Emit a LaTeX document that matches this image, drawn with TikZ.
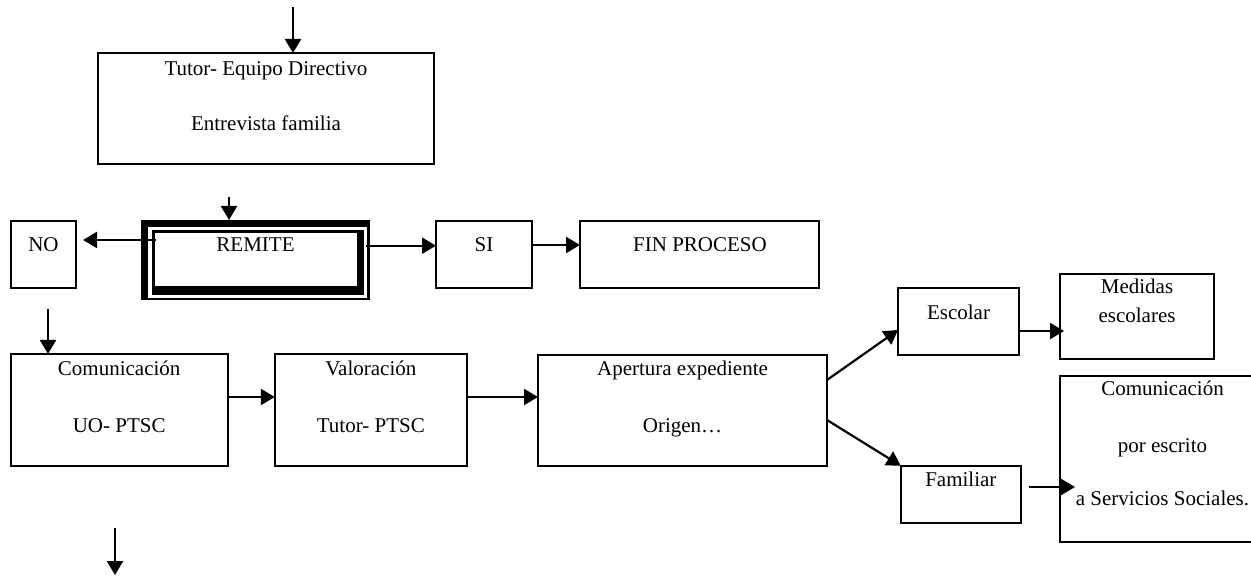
\documentclass[tikz,border=0pt]{standalone}
\usepackage{fontspec}
\setmainfont{Liberation Serif}
\usetikzlibrary{arrows.meta}
\begin{document}
\begin{tikzpicture}[x=0.5pt,y=-0.5pt,
  box/.style={draw,line width=1pt,rectangle,inner sep=0pt,outer sep=0pt},
  txt/.style={anchor=base,inner sep=0pt,font=\fontsize{10.5pt}{12pt}\selectfont},
  arr/.style={line width=1.1pt,-{Triangle[length=7pt,width=8pt]}}]
\useasboundingbox (0,0) rectangle (1251,576);
% boxes
\node[box,minimum width=168pt,minimum height=55.5pt] (b1) at (266,108.5) {};
\node[box,minimum width=32.5pt,minimum height=33.5pt] (no) at (43.5,254.5) {};
\node[box,minimum width=48pt,minimum height=33.5pt] (si) at (484,254.5) {};
\node[box,minimum width=119.5pt,minimum height=33.5pt] (fin) at (699.5,254.5) {};
% REMITE frame
\fill[black] (141,220) rectangle (370,300);
\fill[white] (148.3,227.3) rectangle (366.7,297.7);
\fill[black] (151.7,230) rectangle (364,295);
\fill[white] (155,232.7) rectangle (356.7,286);
\node[inner sep=0pt,outer sep=0pt,minimum width=114.5pt,minimum height=40pt] (remite) at (255.5,260) {};
\node[box,minimum width=108.5pt,minimum height=56pt] (com) at (119.2,410) {};
\node[box,minimum width=96pt,minimum height=56pt] (val) at (370.85,410) {};
\node[box,minimum width=144.5pt,minimum height=55.5pt] (ap) at (682.5,410.5) {};
\node[box,minimum width=60.5pt,minimum height=33.5pt] (esc) at (958.5,321.5) {};
\node[box,minimum width=77pt,minimum height=42.5pt] (med) at (1137,316.5) {};
\node[box,minimum width=60.15pt,minimum height=28.5pt] (fam) at (960.85,494.2) {};
\node[box,minimum width=110pt,minimum height=83pt] (ces) at (1170,459) {};
% texts
\node[txt] (t1a) at (266,75.3) {Tutor- Equipo Directivo};
\node[txt] (t1b) at (266,131) {Entrevista familia};
\node[txt] (tno) at (43.5,252) {NO};
\node[txt] (trem) at (255.5,252) {REMITE};
\node[txt] (tsi) at (484,252) {SI};
\node[txt] (tfin) at (700,252) {FIN PROCESO};
\node[txt] (tcoma) at (119.2,376) {Comunicación};
\node[txt] (tcomb) at (119.2,432) {UO- PTSC};
\node[txt] (tvala) at (370.85,376) {Valoración};
\node[txt] (tvalb) at (370.85,432) {Tutor- PTSC};
\node[txt] (tapa) at (682.5,376) {Apertura expediente};
\node[txt] (tapb) at (682.5,432.7) {Origen…};
\node[txt] (tesc) at (958.5,320) {Escolar};
\node[txt] (tmeda) at (1137,294) {Medidas};
\node[txt] (tmedb) at (1137,323) {escolares};
\node[txt] (tfam) at (960.85,486) {Familiar};
\node[txt] (tcesa) at (1162.5,396) {Comunicación};
\node[txt] (tcesb) at (1162.5,452) {por escrito};
\node[txt] (tcesc) at (1162.5,505) {a Servicios Sociales.};
% coordinates
\coordinate (c0) at (293,7);
\coordinate (c1) at (229,197);
\coordinate (c2) at (156,240);
\coordinate (c2e) at (83,240);
\coordinate (c3) at (365.7,245.7);
\coordinate (c4) at (532,245);
\coordinate (c5) at (48,309);
\coordinate (c6) at (0,397);
\coordinate (c7) at (115,528);
\coordinate (c8) at (115,575);
\coordinate (c9) at (0,380);
\coordinate (c10) at (0,330);
\coordinate (c11) at (0,420);
\coordinate (c12) at (0,331);
\coordinate (c12e) at (1064,331);
\coordinate (c13) at (1029.3,487);
\coordinate (c14) at (1075,487);
% arrows
\draw[arr] (c0) -- (c0 |- b1.north);
\draw[arr] (c1) -- (c1 |- remite.north);
\draw[arr] (c2) -- (c2e);
\draw[arr] (c3) -- (si.west |- c3);
\draw[arr] (c4) -- (fin.west |- c4);
\draw[arr] (c5) -- (c5 |- com.north);
\draw[arr] (com.east |- c6) -- (val.west |- c6);
\draw[arr] (val.east |- c6) -- (ap.west |- c6);
\draw[arr] (c7) -- (c8);
\draw[arr] (ap.east |- c9) -- (esc.west |- c10);
\draw[arr] (ap.east |- c11) -- (fam.north west);
\draw[arr] (esc.east |- c12) -- (c12e);
\draw[arr] (c13) -- (c14);
\end{tikzpicture}
\end{document}
